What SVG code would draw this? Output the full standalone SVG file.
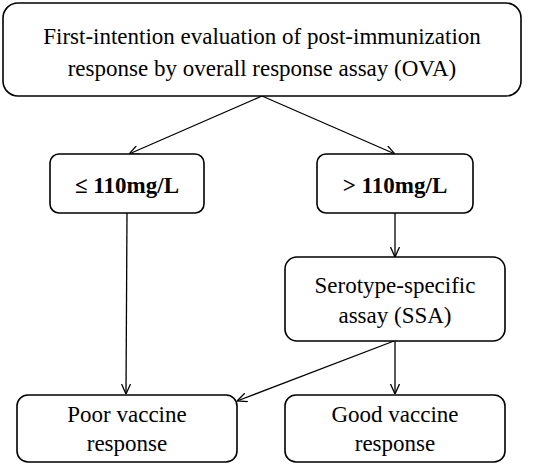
<svg xmlns="http://www.w3.org/2000/svg" width="552" height="464" viewBox="0 0 552 464">
<style>
.box{fill:#fff;stroke:#000;stroke-width:1.6}
.t{font-family:"Liberation Serif","Times New Roman",serif;font-size:23px;fill:#000;text-anchor:middle}
.b{font-weight:bold}
.c{stroke:#000;stroke-width:1.3;fill:none;marker-end:url(#ah)}
</style>
<defs>
<marker id="ah" viewBox="0 0 10 10" refX="10" refY="5" markerWidth="10" markerHeight="10" markerUnits="userSpaceOnUse" orient="auto">
<path d="M0,0.5 L10,5 L0,9.5" fill="none" stroke="#000" stroke-width="1.3"/>
</marker>
</defs>
<rect width="552" height="464" fill="#fff"/>
<g id="connectors">
<line class="c" x1="262" y1="96" x2="129" y2="154"/>
<line class="c" x1="262" y1="96" x2="395" y2="154"/>
<line class="c" x1="127" y1="213" x2="126" y2="394"/>
<line class="c" x1="395" y1="213" x2="395" y2="257"/>
<line class="c" x1="395" y1="341" x2="395" y2="394"/>
<line class="c" x1="394" y1="341" x2="237" y2="401"/>
</g>
<g id="n_ova">
<rect class="box" x="3" y="3" width="518" height="93" rx="15"/>
<text class="t" x="262" y="44">First-intention evaluation of post-immunization</text>
<text class="t" x="262" y="76">response by overall response assay (OVA)</text>
</g>
<g id="n_le">
<rect class="box" x="50" y="154" width="154" height="59" rx="9"/>
<text class="t b" x="127" y="193">≤ 110mg/L</text>
</g>
<g id="n_gt">
<rect class="box" x="317" y="154" width="156" height="59" rx="9"/>
<text class="t b" x="395" y="193">&gt; 110mg/L</text>
</g>
<g id="n_ssa">
<rect class="box" x="285" y="257" width="220" height="84" rx="12"/>
<text class="t" x="395" y="293">Serotype-specific</text>
<text class="t" x="395" y="323">assay (SSA)</text>
</g>
<g id="n_poor">
<rect class="box" x="17" y="395" width="220" height="67" rx="11"/>
<text class="t" x="127" y="422">Poor vaccine</text>
<text class="t" x="127" y="451">response</text>
</g>
<g id="n_good">
<rect class="box" x="285" y="395" width="220" height="67" rx="11"/>
<text class="t" x="395" y="422">Good vaccine</text>
<text class="t" x="395" y="451">response</text>
</g>
</svg>
